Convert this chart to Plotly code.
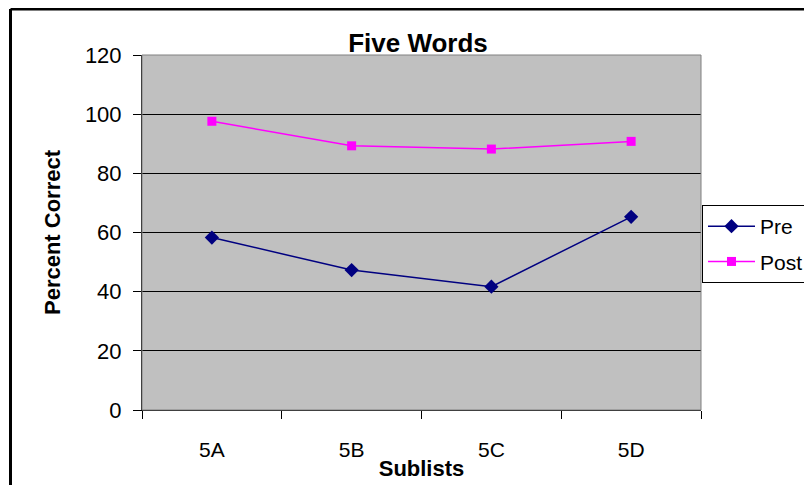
import plotly.graph_objects as go

categories = ["5A", "5B", "5C", "5D"]
pre = [58.3, 47.3, 41.7, 65.3]
post = [97.6, 89.3, 88.2, 90.8]
y_ticks = [0, 20, 40, 60, 80, 100, 120]

# figure-pixel geometry (page body adds an 8px offset)
W, H = 812, 485
L, R, T, B = 134, 693, 47, 402

def px_x(p):
    return (p - L) / (R - L)

def px_y(p):
    return (B - p) / (B - T)

fig = go.Figure()
fig.add_trace(go.Scatter(x=categories, y=pre, name="Pre", mode="lines+markers", legendgroup="a",
                         line=dict(color="#000080", width=1.5),
                         marker=dict(symbol="diamond", size=11, color="#000080")))
fig.add_trace(go.Scatter(x=categories, y=post, name="Post", mode="lines+markers", legendgroup="b",
                         line=dict(color="#FF00FF", width=1.5),
                         marker=dict(symbol="square", size=9, color="#FF00FF")))

fig.update_layout(
    width=W, height=H,
    margin=dict(l=L, r=W - R, t=T, b=H - B, autoexpand=False),
    paper_bgcolor="white", plot_bgcolor="#C0C0C0",
    font=dict(family="Liberation Sans, Arial, sans-serif", color="black", size=20),
    title=dict(text="<b>Five Words</b>", x=px_x(410), xref="paper", xanchor="center",
               y=1 - 35 / H, yanchor="middle", font=dict(size=26)),
    showlegend=True,
    legend=dict(x=px_x(694), y=px_y(197), xanchor="left", yanchor="top",
                bordercolor="black", borderwidth=1, bgcolor="white",
                font=dict(size=21), tracegroupgap=5, itemwidth=47),
    xaxis=dict(type="category", categoryorder="array", categoryarray=categories,
               tickson="boundaries", ticks="outside", ticklen=8, tickcolor="black",
               showline=True, linecolor="black", linewidth=1, showgrid=False,
               range=[-0.5, 3.5], ticklabelstandoff=21,
               title=dict(text="<b>Sublists</b>", font=dict(size=22), standoff=0),
               tickfont=dict(size=21)),
    yaxis=dict(range=[0, 120], tickvals=y_ticks, ticks="outside", ticklen=8, tickcolor="black",
               showline=True, linecolor="black", linewidth=1, ticklabelstandoff=7,
               showgrid=True, gridcolor="black", gridwidth=1, zeroline=False,
               title=dict(text="<b>Percent Correct</b>", font=dict(size=22), standoff=18),
               tickfont=dict(size=22)),
)

# plot-area outline
fig.add_shape(type="rect", xref="paper", yref="paper", x0=0, y0=0, x1=1, y1=1,
              line=dict(color="#808080", width=1), layer="above")
# outer chart border (partially visible)
fig.add_shape(type="line", xref="paper", yref="paper", x0=px_x(2.5), y0=px_y(1), x1=px_x(900), y1=px_y(1),
              line=dict(color="black", width=3))
fig.add_shape(type="line", xref="paper", yref="paper", x0=px_x(2.5), y0=px_y(1), x1=px_x(2.5), y1=px_y(600),
              line=dict(color="black", width=3))

fig.write_html("out.html")
